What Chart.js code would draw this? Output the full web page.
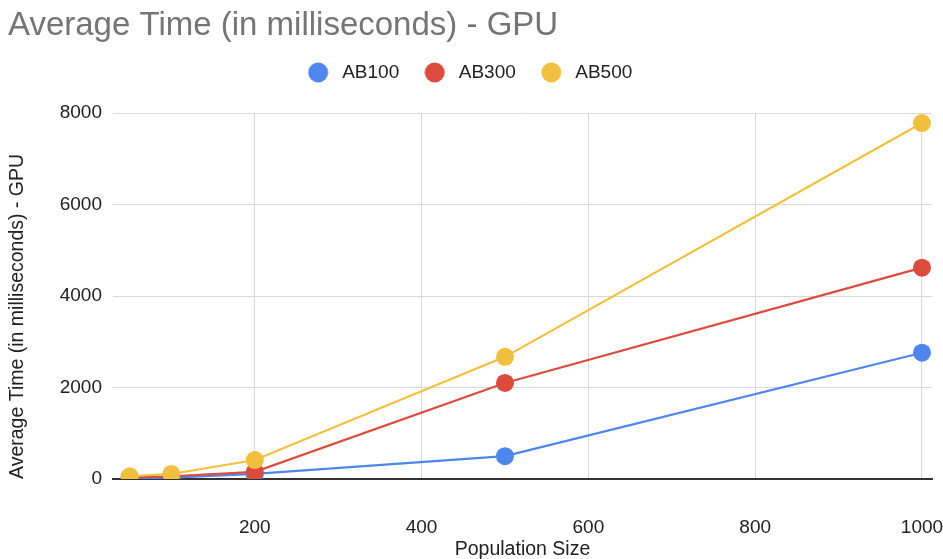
<!DOCTYPE html>
<html>
<head>
<meta charset="utf-8">
<script src="https://cdn.jsdelivr.net/npm/chart.js@4"></script>
<style>
  html, body { margin: 0; padding: 0; background: #ffffff; }
  #wrap { width: 943px; height: 559px; }
</style>
</head>
<body>
<div id="wrap"><canvas id="c" width="943" height="559"></canvas></div>
<script>
// Population sizes on the x axis
const populationSizes = [50, 100, 200, 500, 1000];

// Average GPU time per run, in milliseconds
const ab100 = [15, 30, 110, 500, 2760];
const ab300 = [30, 60, 155, 2100, 4620];
const ab500 = [60, 110, 415, 2670, 7780];

const seriesNames = ['AB100', 'AB300', 'AB500'];
const xTickValues = [200, 400, 600, 800, 1000];
const yTickValues = [0, 2000, 4000, 6000, 8000];

const colors = ['#4f86ec', '#db4c3f', '#f1c040'];
const FONT = "'Liberation Sans', Arial, Helvetica, sans-serif";

function toPoints(values) {
  return populationSizes.map((x, i) => ({ x: x, y: values[i] }));
}

// Legend marker: a filled circle on the left of a wider canvas,
// leaving a gap before the label text.
function legendDot(color) {
  const cv = document.createElement('canvas');
  cv.width = 25; cv.height = 21;
  const g = cv.getContext('2d');
  g.fillStyle = color;
  g.beginPath();
  g.arc(10.5, 10.5, 10, 0, Math.PI * 2);
  g.fill();
  return cv;
}
const legendDots = colors.map(legendDot);

const seriesValues = [ab100, ab300, ab500];
const datasets = seriesNames.map((name, i) => ({
  label: name,
  data: toPoints(seriesValues[i]),
  borderColor: colors[i],
  backgroundColor: colors[i],
  borderWidth: 2.2,
  pointRadius: 9,
  pointHoverRadius: 9,
  pointBorderWidth: 0,
  tension: 0,
  clip: 0,
  order: seriesNames.length - i
}));

// Extra room between the legend row and the plot area
const legendGap = {
  id: 'legendGap',
  beforeInit(chart) {
    const fit = chart.legend.fit;
    chart.legend.fit = function () {
      fit.call(this);
      this.height += 21;
    };
  }
};

new Chart(document.getElementById('c'), {
  type: 'line',
  data: { datasets: datasets },
  plugins: [legendGap],
  options: {
    responsive: false,
    animation: false,
    devicePixelRatio: 1,
    layout: { padding: { left: 8, right: 11, top: 0, bottom: 0 } },
    plugins: {
      tooltip: { enabled: false },
      title: {
        display: true,
        text: 'Average Time (in milliseconds) - GPU',
        align: 'start',
        color: '#757575',
        font: { family: FONT, size: 33, weight: 'normal', lineHeight: 1 },
        padding: { top: 9, bottom: -4 }
      },
      legend: {
        display: true,
        position: 'top',
        align: 'center',
        labels: {
          usePointStyle: true,
          pointStyleWidth: 25,
          boxHeight: 14,
          color: '#222222',
          font: { family: FONT, size: 19, lineHeight: 1 },
          padding: 25,
          sort: (a, b) => a.datasetIndex - b.datasetIndex,
          generateLabels: (chart) => {
            const items = Chart.defaults.plugins.legend.labels.generateLabels(chart);
            items.forEach(it => { it.pointStyle = legendDots[it.datasetIndex]; });
            return items;
          }
        }
      }
    },
    scales: {
      x: {
        type: 'linear',
        min: 30,
        max: 1012,
        afterBuildTicks: (axis) => { axis.ticks = xTickValues.map(v => ({ value: v })); },
        afterFit: (axis) => { axis.paddingRight = 0; axis.height = 80; },
        grid: { color: '#d9d9d9', lineWidth: 1, drawTicks: false },
        border: { display: true, color: '#333333', width: 2 },
        ticks: {
          color: '#222222',
          font: { family: FONT, size: 19, lineHeight: 1 },
          padding: 39,
          maxRotation: 0,
          callback: (v) => String(v)
        },
        title: {
          display: true,
          text: 'Population Size',
          color: '#222222',
          font: { family: FONT, size: 19.5, lineHeight: 1 },
          padding: { top: 0, bottom: -0.5 }
        }
      },
      y: {
        type: 'linear',
        min: 0,
        max: 8000,
        afterBuildTicks: (axis) => { axis.ticks = yTickValues.map(v => ({ value: v })); },
        afterFit: (axis) => { axis.width = 105; },
        grid: { color: '#d9d9d9', lineWidth: 1, drawTicks: false },
        border: { display: false },
        ticks: {
          color: '#222222',
          font: { family: FONT, size: 19, lineHeight: 1 },
          padding: 11,
          callback: (v) => String(v)
        },
        title: {
          display: true,
          text: 'Average Time (in milliseconds) - GPU',
          align: 'start',
          color: '#222222',
          font: { family: FONT, size: 19.5, lineHeight: 1 },
          padding: { top: 0, bottom: 0 }
        }
      }
    }
  }
});
</script>
</body>
</html>
